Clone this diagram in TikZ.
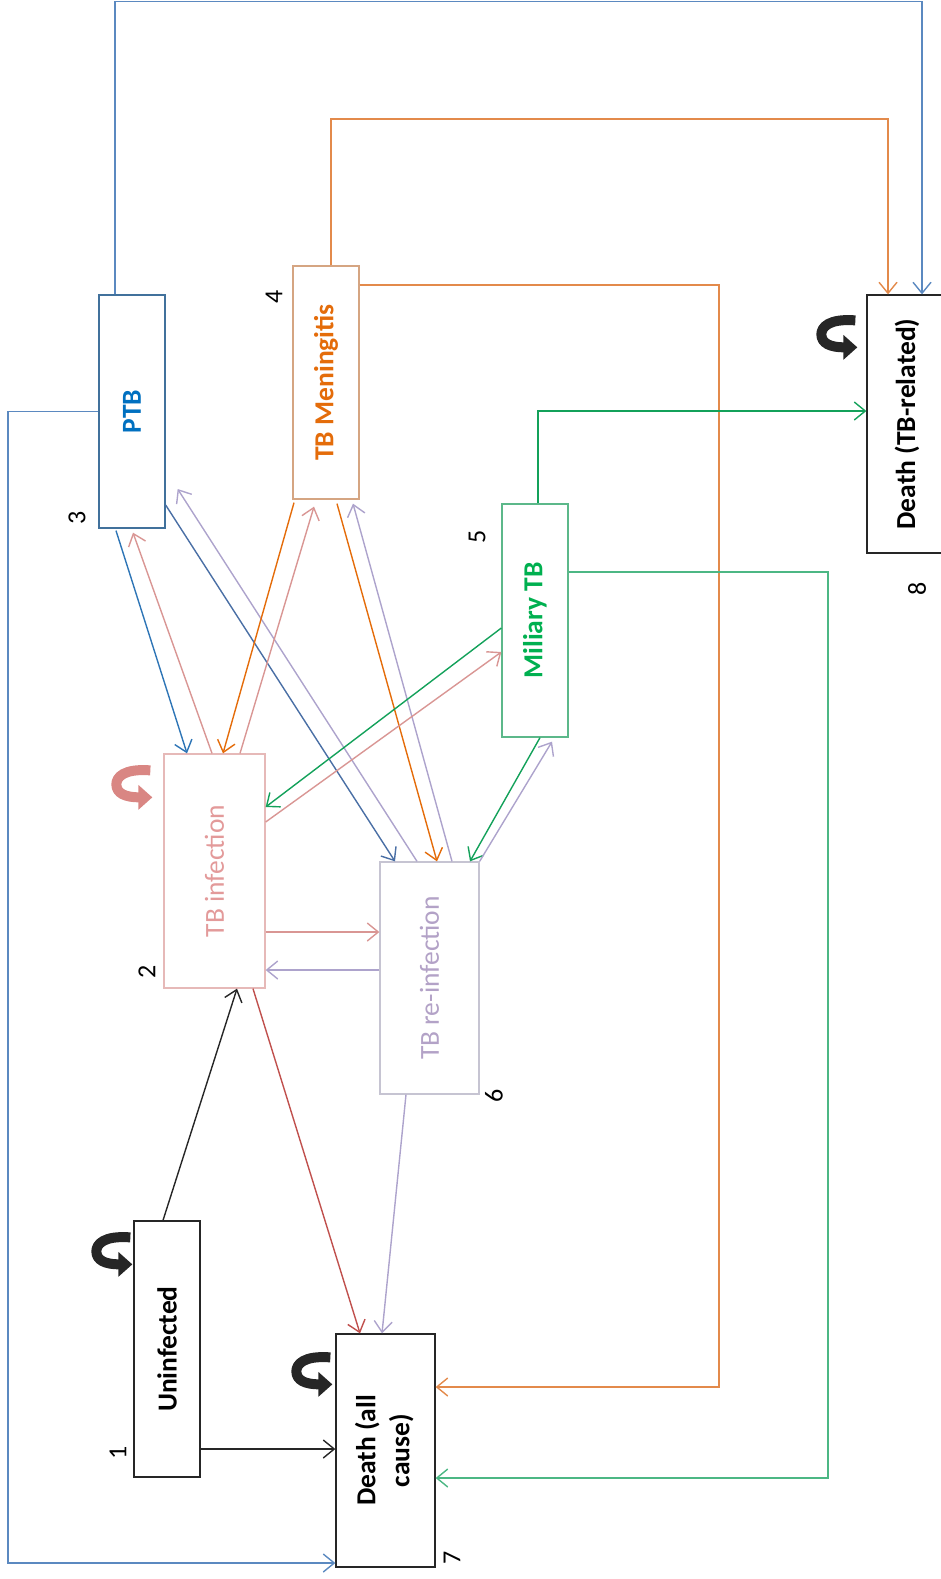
\documentclass[tikz,border=0pt]{standalone}
\usepackage{fontspec}
\setmainfont{Carlito}
\usetikzlibrary{arrows.meta}

\definecolor{boxblack}{HTML}{262626}
\definecolor{ptbborder}{HTML}{41719C}
\definecolor{ptbtext}{HTML}{0070C0}
\definecolor{menborder}{HTML}{D5A582}
\definecolor{mentext}{HTML}{E46C0A}
\definecolor{milborder}{HTML}{5CB88A}
\definecolor{miltext}{HTML}{00B050}
\definecolor{tbiborder}{HTML}{E6B9B8}
\definecolor{tbitext}{HTML}{E39A9A}
\definecolor{reiborder}{HTML}{C6C4D2}
\definecolor{reitext}{HTML}{B3A2C7}
\definecolor{bluedark}{HTML}{2E75B6}
\definecolor{bluemid}{HTML}{4A6FA5}
\definecolor{bluelight}{HTML}{5B89C0}
\definecolor{orangeA}{HTML}{E46C0A}
\definecolor{orangeL}{HTML}{E38A4B}
\definecolor{greenA}{HTML}{13A15A}
\definecolor{greenL}{HTML}{4CB784}
\definecolor{pinkA}{HTML}{D99694}
\definecolor{lavA}{HTML}{ADA3CC}
\definecolor{redA}{HTML}{C0504D}
\definecolor{loopred}{HTML}{D98683}

% thick U-turn arrow drawn beside the top-left corner of a box
\newcommand\uturn[3]{%
  \begin{scope}[shift={(#2)}, shift={#3}]
    \draw[#1, line width=10pt, -{Triangle[length=14pt,width=24pt]}]
      (-3,17) .. controls (-30,15) and (-37,24) .. (-37,31)
              .. controls (-37,40) and (-28,44) .. (-1,44);
  \end{scope}}

\begin{document}
\begin{tikzpicture}[x=1pt,y=-1pt,
  box/.style={draw, line width=1.3pt, fill=white, inner sep=0pt, align=center,
              font=\fontsize{27.5}{34}\selectfont},
  num/.style={font=\fontsize{26}{30}\selectfont, rotate=90, inner sep=0pt},
  conn/.style={line width=1.4pt},
  arr/.style={conn, -{Straight Barb[length=11pt,width=18pt]}},
]
\useasboundingbox (0,0) rectangle (941,1579);
\clip (0,0) rectangle (941,1579);

% states
\node[box, draw=boxblack, minimum width=66pt, minimum height=256pt] (uninf) at (167,1349)
  {\rotatebox{90}{\bfseries Uninfected}};
\node[box, draw=boxblack, minimum width=99pt, minimum height=233pt] (dall) at (385.5,1450.5)
  {\rotatebox{90}{\bfseries\begin{tabular}{@{}c@{}}Death (all\\cause)\end{tabular}}};
\node[box, draw=tbiborder, text=tbitext, minimum width=101pt, minimum height=234pt] (tbi) at (214.5,871)
  {\rotatebox{90}{TB infection}};
\node[box, draw=reiborder, text=reitext, minimum width=99pt, minimum height=232pt] (rei) at (429.5,978)
  {\rotatebox{90}{TB re-infection}};
\node[box, draw=ptbborder, text=ptbtext, minimum width=66pt, minimum height=233pt] (ptb) at (132,411.5)
  {\rotatebox{90}{\bfseries PTB}};
\node[box, draw=menborder, text=mentext, minimum width=66pt, minimum height=233pt] (men) at (326,382.5)
  {\rotatebox{90}{\bfseries TB Meningitis}};
\node[box, draw=milborder, text=miltext, minimum width=66pt, minimum height=233pt] (mil) at (535,620.5)
  {\rotatebox{90}{\bfseries Miliary TB}};
\node[box, draw=boxblack, minimum width=80pt, minimum height=258pt] (dtb) at (907,424)
  {\rotatebox{90}{\bfseries Death (TB-related)}};

% state numbers
\node[num] (n1) at (118,1453) {1};
\node[num] (n2) at (147,972) {2};
\node[num] (n3) at (77,518) {3};
\node[num] (n4) at (274,297) {4};
\node[num] (n5) at (477,537) {5};
\node[num] (n6) at (494,1096) {6};
\node[num] (n7) at (452,1558) {7};
\node[num] (n8) at (917,589) {8};

% staying in the same state
\uturn{boxblack}{uninf.north west}{(0,0)}
\uturn{loopred}{tbi.north west}{(-10,0)}
\uturn{boxblack}{dall.north west}{(-2,7)}
\uturn{boxblack}{dtb.north west}{(-8,9)}

% transitions from Uninfected
\draw[arr, boxblack] ([xshift=-4pt]uninf.north) -- ([xshift=22.5pt]tbi.south);
\coordinate (p1) at ([yshift=-100pt]uninf.east);
\draw[arr, boxblack] (p1) -- (p1 -| dall.west);

% into Death (all cause)
\draw[arr, redA] ([xshift=38.5pt]tbi.south) -- ([xshift=-25.5pt]dall.north);
\draw[arr, lavA] ([xshift=-23.5pt]rei.south) -- ([xshift=-3.5pt]dall.north);

% TB infection <-> TB re-infection
\coordinate (p2) at ([yshift=-61pt]tbi.east);
\draw[arr, pinkA] (p2) -- (p2 -| rei.west);
\coordinate (p3) at ([yshift=8pt]rei.west);
\draw[arr, lavA] (p3) -- (p3 -| tbi.east);

% PTB
\draw[arr, bluedark] ([xshift=-16pt,yshift=-2pt]ptb.south) -- ([xshift=-27.5pt]tbi.north);
\draw[arr, pinkA] ([xshift=-2.5pt]tbi.north) -- ([xshift=1pt,yshift=-4pt]ptb.south);
\draw[arr, bluemid] ([yshift=-93.5pt]ptb.east) -- ([xshift=-34.5pt]rei.north);
\draw[arr, lavA] ([xshift=-12.5pt]rei.north) -- ([xshift=12pt,yshift=-77.5pt]ptb.east);

% TB Meningitis
\draw[arr, orangeA] ([xshift=-32pt,yshift=-3pt]men.south) -- ([xshift=8.5pt]tbi.north);
\draw[arr, pinkA] ([xshift=25.5pt]tbi.north) -- ([xshift=-12pt,yshift=-7pt]men.south);
\draw[arr, orangeA] ([xshift=11pt,yshift=-4pt]men.south) -- ([xshift=7.5pt]rei.north);
\draw[arr, lavA] ([xshift=22.5pt]rei.north) -- ([xshift=27pt,yshift=-4pt]men.south);

% Miliary TB
\draw[arr, greenA] ([yshift=-7.5pt]mil.west) -- ([yshift=64pt]tbi.east);
\draw[arr, pinkA] ([yshift=49pt]tbi.east) -- ([yshift=-31.5pt]mil.west);
\draw[arr, greenA] ([xshift=5pt]mil.south) -- ([xshift=40.5pt]rei.north);
\draw[arr, lavA] (rei.north east) -- ([xshift=17pt,yshift=-4pt]mil.south);

% routed connectors to the death states
\coordinate (topB) at (922,1.5);
\draw[arr, bluelight] ([xshift=-17pt]ptb.north) |- (topB) -- ([xshift=15pt]dtb.north);
\coordinate (leftB) at (8,1563);
\draw[arr, bluelight] (ptb.west) -| (leftB) -- (leftB -| dall.west);
\coordinate (topO) at (888,119);
\draw[arr, orangeL] ([xshift=5pt]men.north) |- (topO) -- ([xshift=-19pt]dtb.north);
\coordinate (rightO) at (719,1387);
\draw[arr, orangeL] ([yshift=97.5pt]men.east) -| (rightO) -- (rightO -| dall.east);
\draw[arr, greenA] ([xshift=3pt]mil.north) |- ([yshift=13pt]dtb.west);
\coordinate (rightG) at (828,1478);
\draw[arr, greenL] ([yshift=48.5pt]mil.east) -| (rightG) -- (rightG -| dall.east);
\end{tikzpicture}
\end{document}
